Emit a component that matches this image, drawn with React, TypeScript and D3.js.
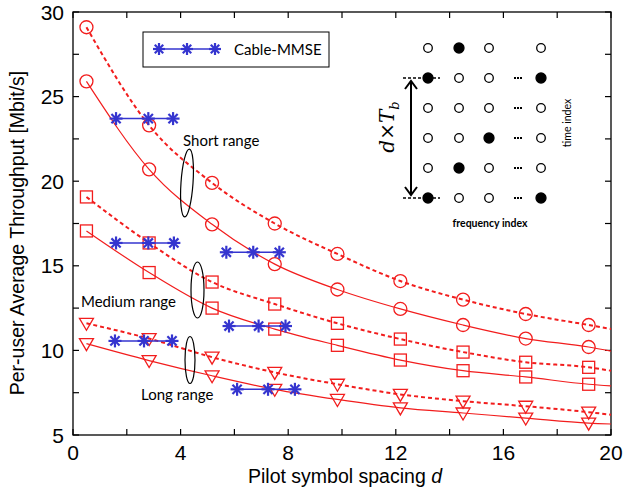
import React, { useEffect, useRef } from 'react';
import * as d3 from 'd3';

// marker positions along pilot spacing d
const markerX = [0.5, 2.83, 5.17, 7.5, 9.83, 12.17, 14.5, 16.83, 19.17];
const endX = 20;

const shortDashed = [29.1, 23.3, 19.9, 17.5, 15.7, 14.1, 13.0, 12.15, 11.5];
const shortDashedEnd = 11.26;
const shortSolid = [25.9, 20.7, 17.45, 15.1, 13.6, 12.45, 11.5, 10.7, 10.2];
const shortSolidEnd = 9.96;
const mediumDashed = [19.07, 16.35, 14.04, 12.74, 11.6, 10.67, 9.9, 9.3, 9.0];
const mediumDashedEnd = 8.8;
const mediumSolid = [17.06, 14.6, 12.5, 11.26, 10.3, 9.43, 8.8, 8.43, 8.0];
const mediumSolidEnd = 7.9;
const longDashed = [11.6, 10.7, 9.6, 8.7, 8.0, 7.4, 7.0, 6.7, 6.35];
const longDashedEnd = 6.2;
const longSolid = [10.4, 9.4, 8.5, 7.7, 7.1, 6.6, 6.3, 6.0, 5.7];
const longSolidEnd = 5.65;

// Cable-MMSE reference levels: [x1, x2, x3], value
const cableX = [
  [1.6, 2.8, 3.72],
  [1.6, 2.8, 3.75],
  [5.7, 6.7, 7.67],
  [5.8, 6.9, 7.9],
  [1.56, 2.64, 3.68],
  [6.1, 7.25, 8.25],
];
const cableY = [23.7, 16.35, 15.8, 11.44, 10.56, 7.7];

const xTicks = [0, 4, 8, 12, 16, 20];
const xMinor = [2, 6, 10, 14, 18];
const yTicks = [5, 10, 15, 20, 25, 30];
const yMinor = [7.5, 12.5, 17.5, 22.5, 27.5];

// pilot pattern inset: 1 = pilot (filled), 0 = data
const insetRows = [
  [0, 1, 0, 0],
  [1, 0, 0, 1],
  [0, 0, 0, 0],
  [0, 0, 1, 0],
  [0, 1, 0, 0],
  [1, 0, 0, 1],
];

const RED = '#f21d1d';
const BLUE = '#3535cf';

const App: React.FC = () => {
  const ref = useRef<SVGSVGElement | null>(null);

  useEffect(() => {
    const svg = d3.select(ref.current);
    svg.selectAll('*').remove();

    const left = 73, right = 611, top = 12, bottom = 435;
    const x = d3.scaleLinear().domain([0, 20]).range([left, right]);
    const y = d3.scaleLinear().domain([5, 30]).range([bottom, top]);
    const font = '"Liberation Sans", Arial, sans-serif';
    const cal = 'Lato, "Open Sans", sans-serif';

    svg.append('rect').attr('width', 624).attr('height', 494).attr('fill', 'white');

    // box
    svg.append('rect')
      .attr('x', left).attr('y', top)
      .attr('width', right - left).attr('height', bottom - top)
      .attr('fill', 'none').attr('stroke', 'black').attr('stroke-width', 1.3);

    const tl = 6;
    const allX = [...xTicks, ...xMinor];
    const allY = [...yTicks, ...yMinor];
    const tg = svg.append('g').attr('stroke', 'black').attr('stroke-width', 1.2);
    allX.forEach(v => {
      tg.append('line').attr('x1', x(v)).attr('x2', x(v)).attr('y1', bottom).attr('y2', bottom - tl);
      tg.append('line').attr('x1', x(v)).attr('x2', x(v)).attr('y1', top).attr('y2', top + tl);
    });
    allY.forEach(v => {
      tg.append('line').attr('x1', left).attr('x2', left + tl).attr('y1', y(v)).attr('y2', y(v));
      tg.append('line').attr('x1', right).attr('x2', right - tl).attr('y1', y(v)).attr('y2', y(v));
    });

    svg.append('g').selectAll('text').data(xTicks).enter().append('text')
      .attr('x', d => x(d)).attr('y', bottom + 25)
      .attr('text-anchor', 'middle').attr('font-family', font).attr('font-size', 21)
      .text(d => d);
    svg.append('g').selectAll('text').data(yTicks).enter().append('text')
      .attr('x', left - 9).attr('y', d => y(d) + 7.5)
      .attr('text-anchor', 'end').attr('font-family', font).attr('font-size', 21)
      .text(d => d);

    const xl = svg.append('text').attr('x', 345).attr('y', 483)
      .attr('text-anchor', 'middle').attr('font-family', font).attr('font-size', 19.5);
    xl.append('tspan').text('Pilot symbol spacing ');
    xl.append('tspan').attr('font-style', 'italic').text('d');

    svg.append('text')
      .attr('transform', `translate(23.5,233) rotate(-90)`)
      .attr('text-anchor', 'middle').attr('font-family', font).attr('font-size', 19.5)
      .text('Per-user Average Throughput [Mbit/s]');

    // curves
    const series = [
      { vals: shortDashed, end: shortDashedEnd, dashed: true, marker: 'circle' },
      { vals: shortSolid, end: shortSolidEnd, dashed: false, marker: 'circle' },
      { vals: mediumDashed, end: mediumDashedEnd, dashed: true, marker: 'square' },
      { vals: mediumSolid, end: mediumSolidEnd, dashed: false, marker: 'square' },
      { vals: longDashed, end: longDashedEnd, dashed: true, marker: 'tri' },
      { vals: longSolid, end: longSolidEnd, dashed: false, marker: 'tri' },
    ];
    const line = d3.line<[number, number]>()
      .x(d => x(d[0])).y(d => y(d[1]))
      .curve(d3.curveMonotoneX);

    series.forEach(s => {
      const pts: [number, number][] = s.vals.map((v, i) => [markerX[i], v]);
      pts.push([endX, s.end]);
      svg.append('path')
        .attr('d', line(pts))
        .attr('fill', 'none').attr('stroke', RED)
        .attr('stroke-width', s.dashed ? 2 : 1.2)
        .attr('stroke-dasharray', s.dashed ? '4,3' : null);

      const g = svg.append('g').attr('fill', 'none').attr('stroke', RED).attr('stroke-width', 1.3);
      s.vals.forEach((v, i) => {
        const cx = x(markerX[i]), cy = y(v);
        if (s.marker === 'circle') {
          g.append('circle').attr('cx', cx).attr('cy', cy).attr('r', 6.5);
        } else if (s.marker === 'square') {
          g.append('rect').attr('x', cx - 6).attr('y', cy - 6).attr('width', 12).attr('height', 12);
        } else {
          g.append('path').attr('d', `M${cx - 7},${cy - 5} L${cx + 7},${cy - 5} L${cx},${cy + 7} Z`);
        }
      });
    });

    // Cable-MMSE
    const star = (g: any, cx: number, cy: number, r: number) => {
      [0, 45, 90, 135].forEach(a => {
        const rad = (a * Math.PI) / 180;
        g.append('line')
          .attr('x1', cx - r * Math.cos(rad)).attr('y1', cy - r * Math.sin(rad))
          .attr('x2', cx + r * Math.cos(rad)).attr('y2', cy + r * Math.sin(rad));
      });
    };
    cableX.forEach((xs, i) => {
      const g = svg.append('g').attr('stroke', BLUE);
      g.append('line')
        .attr('x1', x(xs[0])).attr('x2', x(xs[2]))
        .attr('y1', y(cableY[i])).attr('y2', y(cableY[i]))
        .attr('stroke-width', 1.5);
      const sg = g.append('g').attr('stroke-width', 2.2);
      xs.forEach(xv => star(sg, x(xv), y(cableY[i]), 6.5));
    });

    // legend
    svg.append('rect').attr('x', 143).attr('y', 32).attr('width', 186).attr('height', 35)
      .attr('fill', 'white').attr('stroke', 'black').attr('stroke-width', 1);
    const lg = svg.append('g').attr('stroke', BLUE);
    lg.append('line').attr('x1', 159).attr('x2', 215).attr('y1', 49).attr('y2', 49).attr('stroke-width', 1.5);
    const lsg = lg.append('g').attr('stroke-width', 2.2);
    [159, 187, 215].forEach(px => star(lsg, px, 49, 6));
    svg.append('text').attr('x', 234).attr('y', 54.5)
      .attr('font-family', cal).attr('font-size', 15).text('Cable-MMSE');

    // range annotations
    const notes = [
      { text: 'Short range', tx: 183, ty: 146, ex: 187, ey: 183, rx: 6, ry: 34, rot: 4 },
      { text: 'Medium range', tx: 81, ty: 307, ex: 197.5, ey: 290, rx: 6.5, ry: 28, rot: 0 },
      { text: 'Long range', tx: 141, ty: 400, ex: 190, ey: 360, rx: 5, ry: 23.5, rot: 0 },
    ];
    notes.forEach(n => {
      svg.append('text').attr('x', n.tx).attr('y', n.ty)
        .attr('font-family', cal).attr('font-size', 15).text(n.text);
      svg.append('ellipse').attr('cx', n.ex).attr('cy', n.ey).attr('rx', n.rx).attr('ry', n.ry)
        .attr('transform', `rotate(${n.rot},${n.ex},${n.ey})`)
        .attr('fill', 'none').attr('stroke', 'black').attr('stroke-width', 1.2);
    });

    // pilot pattern inset
    const colX = [428, 459, 489, 541];
    const rowY = d3.scalePoint<number>().domain(d3.range(insetRows.length)).range([48, 198]);
    const ig = svg.append('g');
    insetRows.forEach((row, r) => {
      row.forEach((c, k) => {
        ig.append('circle').attr('cx', colX[k]).attr('cy', rowY(r) as number).attr('r', c ? 5 : 4.3)
          .attr('fill', c ? 'black' : 'white').attr('stroke', 'black').attr('stroke-width', 1.3);
      });
      if (r > 0) {
        ig.append('line').attr('x1', 514).attr('x2', 522)
          .attr('y1', rowY(r) as number).attr('y2', rowY(r) as number)
          .attr('stroke', 'black').attr('stroke-width', 2).attr('stroke-dasharray', '2,1');
      }
    });
    [1, 5].forEach(r => {
      ig.append('line').attr('x1', 403).attr('x2', 440)
        .attr('y1', rowY(r) as number).attr('y2', rowY(r) as number)
        .attr('stroke', 'black').attr('stroke-width', 1.5).attr('stroke-dasharray', '3,2');
    });
    const ay1 = (rowY(1) as number) + 3, ay2 = (rowY(5) as number) - 3;
    ig.append('line').attr('x1', 411).attr('x2', 411).attr('y1', ay1).attr('y2', ay2)
      .attr('stroke', 'black').attr('stroke-width', 2);
    ig.append('path').attr('d', `M405,${ay1 + 8} L411,${ay1} L417,${ay1 + 8} M405,${ay2 - 8} L411,${ay2} L417,${ay2 - 8}`)
      .attr('fill', 'none').attr('stroke', 'black').attr('stroke-width', 2);

    const dt = svg.append('text')
      .attr('transform', `translate(394,127) rotate(-90)`)
      .attr('text-anchor', 'middle').attr('font-family', '"DejaVu Serif", serif').attr('font-size', 20);
    dt.append('tspan').attr('font-style', 'italic').text('d');
    dt.append('tspan').text('×');
    dt.append('tspan').attr('font-style', 'italic').text('T');
    dt.append('tspan').attr('font-style', 'italic').attr('font-size', 13).attr('dy', 5).text('b');

    svg.append('text')
      .attr('transform', `translate(571,123) rotate(-90)`)
      .attr('text-anchor', 'middle').attr('font-family', cal).attr('font-size', 10.5)
      .text('time index');
    svg.append('text').attr('x', 490).attr('y', 227)
      .attr('text-anchor', 'middle').attr('font-family', cal).attr('font-size', 10.5).attr('font-weight', 'bold')
      .text('frequency index');
  }, []);

  return <svg ref={ref} width={624} height={494} style={{ position: 'absolute', left: 0, top: 0 }} />;
};

export default App;
